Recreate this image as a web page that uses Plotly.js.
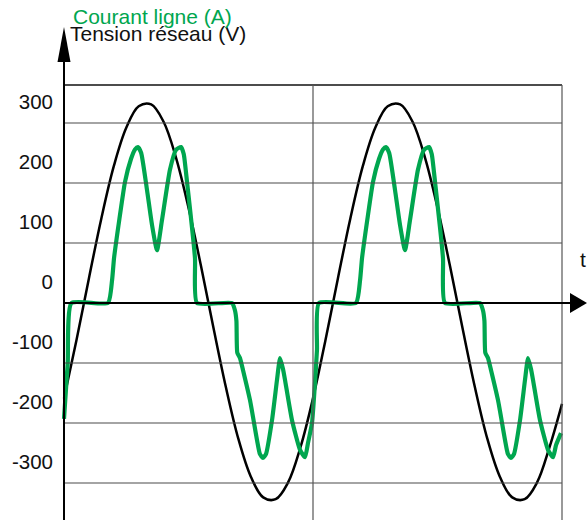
<!DOCTYPE html>
<html>
<head>
<meta charset="utf-8">
<script src="https://cdn.plot.ly/plotly-3.0.1.min.js"></script>
<style>html,body{margin:0;padding:0;background:#fff;}#chart{width:587px;height:520px;}</style>
</head>
<body>
<div id="chart"></div>
<script>
// time in ms
const tVolt = [0,1,2,3,4,5,6,7,8,9,10,11,12,13,14,15,16,17,18,19,20,21,22,23,24,25,26,27,28,29,30,31,32,33,34,35,36,37,38,39,40];
const volt = [-159,-62,41,141,228,292,328,331,302,242,159,62,-41,-140,-226,-289,-324,-327,-299,-240,-159,-62,41,141,228,292,328,331,302,242,159,62,-41,-140,-226,-289,-324,-327,-299,-240,-168];

const tCur = [0.00,0.30,0.60,3.53,3.86,4.02,4.45,4.90,5.38,5.70,5.94,6.20,6.67,7.07,7.47,7.87,8.51,8.99,9.40,9.62,9.88,10.52,10.68,
  13.49,13.73,13.85,13.92,14.14,14.38,14.94,15.50,15.74,15.98,16.22,16.71,17.11,17.35,17.59,17.75,18.31,18.96,19.36,19.60,19.92,20.16,20.32,20.48,
  23.45,23.78,23.94,24.37,24.82,25.30,25.62,25.86,26.12,26.59,26.99,27.39,27.79,28.43,28.91,29.32,29.54,29.80,30.44,30.60,
  33.41,33.65,33.77,33.84,34.06,34.30,34.86,35.42,35.66,35.90,36.14,36.63,37.03,37.27,37.51,37.67,38.23,38.88,39.28,39.52,39.92];
const cur = [-193,-100,0,0,38,75,140,202,240,256,260,250,188,130,88,138,222,255,260,248,202,75,0,
  0,-12,-30,-83,-92,-112,-162,-228,-252,-258,-252,-195,-128,-92,-110,-128,-195,-245,-257,-233,-200,-133,-78,0,
  0,38,75,140,202,240,256,260,250,188,130,88,138,222,255,260,248,202,75,0,
  0,-12,-30,-83,-92,-112,-162,-228,-252,-258,-252,-195,-128,-92,-110,-128,-195,-245,-257,-237,-217];

const yTicks = [300,200,100,0,-100,-200,-300];
const yTickText = ['300','200','100','0','-100','-200','-300'];
const gridX = [20,40];
const labelT = 't';
const labelV = 'Tension réseau (V)';
const labelA = 'Courant ligne (A)';

const GREEN = '#00a64f';
const pxPerMs = 12.45, pxPerUnit = 0.6;
const xr = [-64/pxPerMs, 523/pxPerMs];
const yTop = (303-85)/pxPerUnit, yBot = -217/pxPerUnit;
const yr = [yBot, 303/pxPerUnit];

const shapes = [];
yTicks.filter(v=>v!==0).forEach(v=>shapes.push({type:'line',xref:'x',yref:'y',x0:0,x1:40,y0:v,y1:v,line:{color:'#4a4a4a',width:1.2}}));
shapes.push({type:'line',xref:'x',yref:'y',x0:0,x1:40,y0:yTop,y1:yTop,line:{color:'#111',width:1.3}});
gridX.forEach(x=>shapes.push({type:'line',xref:'x',yref:'y',x0:x,x1:x,y0:yBot,y1:yTop,line:{color:'#555',width:1.2}}));
shapes.push({type:'line',xref:'x',yref:'y',x0:0,x1:(575-64)/pxPerMs,y0:0,y1:0,line:{color:'#000',width:2}});
shapes.push({type:'line',xref:'x',yref:'y',x0:0,x1:0,y0:yBot,y1:(303-45)/pxPerUnit,line:{color:'#000',width:2}});
shapes.push({type:'path',xref:'x',yref:'y',xsizemode:'pixel',ysizemode:'pixel',xanchor:0,yanchor:(303-27)/pxPerUnit,
  path:'M0,0 L-6.5,-35 L6.5,-35 Z',fillcolor:'#000',line:{width:0}});
shapes.push({type:'path',xref:'x',yref:'y',xsizemode:'pixel',ysizemode:'pixel',xanchor:(587-64)/pxPerMs,yanchor:0,
  path:'M0,0 L-17,10 L-17,-10 Z',fillcolor:'#000',line:{width:0}});

const data = [
  {x:tVolt,y:volt,type:'scatter',mode:'lines',line:{color:'#000',width:2.5,shape:'spline',smoothing:1},hoverinfo:'skip'},
  {x:tCur,y:cur,type:'scatter',mode:'lines',line:{color:GREEN,width:4.2,shape:'spline',smoothing:0.5},hoverinfo:'skip'}
];

const layout = {
  width:587,height:520,
  margin:{l:0,r:0,t:0,b:0,pad:0},
  paper_bgcolor:'#fff',plot_bgcolor:'#fff',
  showlegend:false,
  font:{family:'Arial, "Liberation Sans", sans-serif',size:20,color:'#000'},
  xaxis:{range:xr,visible:false,fixedrange:true},
  yaxis:{range:yr,anchor:'free',position:64/587,showgrid:false,zeroline:false,showline:false,
    tickmode:'array',tickvals:yTicks,ticktext:yTickText,ticks:'',ticklabelshift:-21,ticklabelstandoff:11,
    tickfont:{size:20.5,color:'#111'},fixedrange:true},
  shapes:shapes,
  annotations:[
    {xref:'x',yref:'y',x:(583-64)/pxPerMs,y:(303-259)/pxPerUnit,text:labelT,showarrow:false,font:{size:21,color:'#111'}},
    {xref:'x',yref:'y',x:(68-64)/pxPerMs,y:(303-33)/pxPerUnit,xanchor:'left',text:labelV,showarrow:false,font:{size:21,color:'#111'}},
    {xref:'x',yref:'y',x:(71-64)/pxPerMs,y:(303-16)/pxPerUnit,xanchor:'left',text:labelA,showarrow:false,font:{size:21,color:GREEN}}
  ]
};
Plotly.newPlot('chart',data,layout,{staticPlot:true,displayModeBar:false});
</script>
</body>
</html>
